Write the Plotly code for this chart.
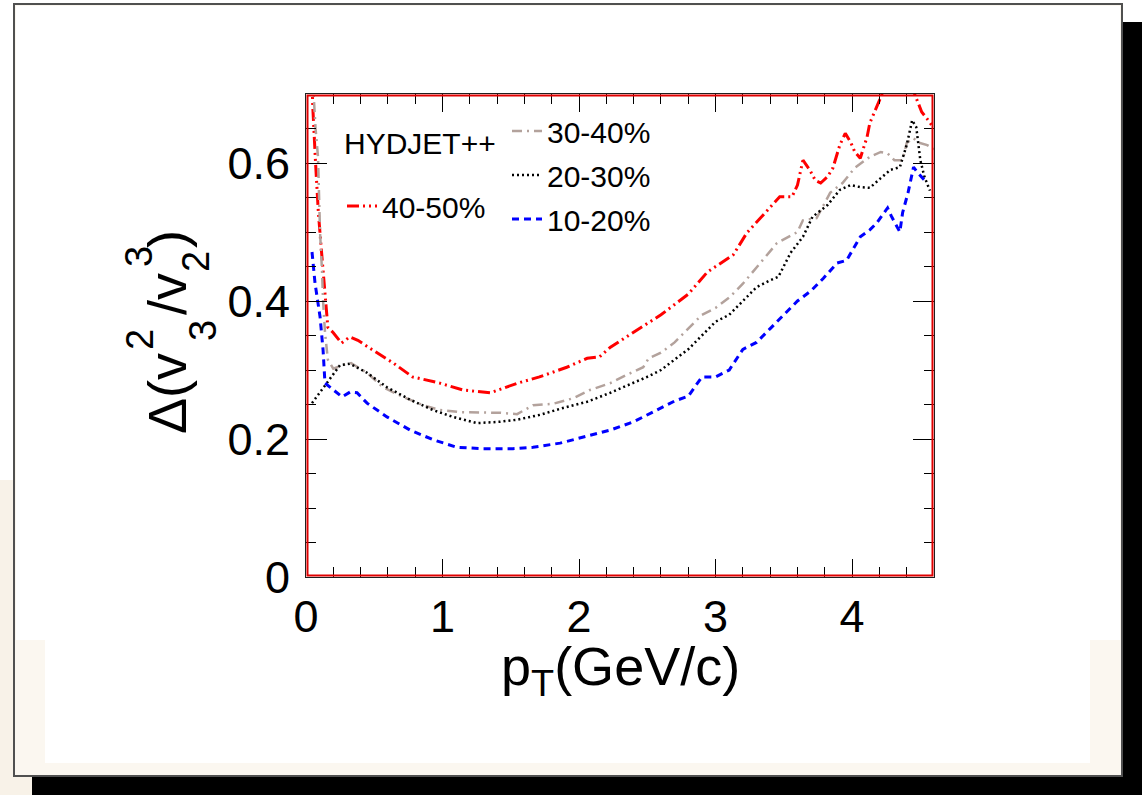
import plotly.graph_objects as go

# Δ(v3^2/v2^3) versus pT for four HYDJET++ centrality classes
pt_40_50 = [0.03, 0.05, 0.07, 0.09, 0.11, 0.13, 0.145, 0.16, 0.2, 0.26, 0.32, 0.38, 0.48, 0.64, 0.78,
            0.98, 1.15, 1.35, 1.55, 1.71, 1.91, 2.06, 2.15, 2.23, 2.37, 2.51, 2.6, 2.7, 2.8, 2.94,
            3.13, 3.23, 3.35, 3.47, 3.56, 3.60, 3.64, 3.69, 3.73, 3.77, 3.82, 3.86, 3.91, 3.95, 3.99,
            4.02, 4.06, 4.11, 4.13, 4.18, 4.22, 4.3, 4.4, 4.46, 4.51, 4.55, 4.6]
val_40_50 = [0.80, 0.68, 0.60, 0.53, 0.48, 0.43, 0.39, 0.362, 0.354, 0.339, 0.348, 0.343, 0.330, 0.310, 0.290,
             0.281, 0.271, 0.267, 0.281, 0.290, 0.304, 0.317, 0.319, 0.333, 0.351, 0.368, 0.38, 0.395, 0.41, 0.442,
             0.467, 0.499, 0.525, 0.551, 0.551, 0.568, 0.604, 0.590, 0.575, 0.571, 0.58, 0.593, 0.626, 0.643, 0.630,
             0.616, 0.607, 0.638, 0.658, 0.681, 0.70, 0.72, 0.73, 0.699, 0.674, 0.664, 0.65]

pt_30_40 = [0.05, 0.07, 0.088, 0.103, 0.117, 0.125, 0.139, 0.16, 0.2, 0.27, 0.33, 0.447, 0.564, 0.711, 0.857,
            0.982, 1.128, 1.275, 1.421, 1.546, 1.663, 1.81, 1.956, 2.08, 2.23, 2.35, 2.47, 2.51, 2.6, 2.7,
            2.8, 2.9, 3.0, 3.1, 3.2, 3.27, 3.35, 3.45, 3.60, 3.64, 3.74, 3.84, 3.93, 4.02, 4.13,
            4.21, 4.26, 4.31, 4.37, 4.40, 4.45, 4.48, 4.55, 4.6]
val_30_40 = [0.72, 0.65, 0.609, 0.499, 0.445, 0.40, 0.355, 0.315, 0.302, 0.307, 0.31, 0.296, 0.275, 0.261, 0.249,
             0.242, 0.239, 0.238, 0.238, 0.236, 0.249, 0.251, 0.259, 0.271, 0.281, 0.293, 0.304, 0.317, 0.325, 0.34,
             0.36, 0.38, 0.39, 0.405, 0.425, 0.442, 0.46, 0.484, 0.50, 0.517, 0.520, 0.557, 0.571, 0.593, 0.609,
             0.616, 0.614, 0.604, 0.604, 0.629, 0.636, 0.630, 0.626, 0.62]

pt_20_30 = [0.044, 0.154, 0.249, 0.322, 0.447, 0.593, 0.762, 0.930, 1.077, 1.253, 1.421, 1.546, 1.714, 1.883, 2.06,
            2.23, 2.40, 2.51, 2.6, 2.7, 2.8, 2.9, 3.0, 3.1, 3.2, 3.3, 3.4, 3.46, 3.55, 3.64,
            3.71, 3.82, 3.91, 3.99, 4.06, 4.13, 4.21, 4.28, 4.35, 4.40, 4.44, 4.47, 4.50, 4.53, 4.57]
val_20_30 = [0.252, 0.281, 0.307, 0.309, 0.296, 0.275, 0.257, 0.242, 0.232, 0.223, 0.225, 0.228, 0.235, 0.245, 0.254,
             0.267, 0.281, 0.291, 0.30, 0.315, 0.33, 0.35, 0.37, 0.38, 0.40, 0.42, 0.43, 0.435, 0.470, 0.493,
             0.522, 0.539, 0.561, 0.568, 0.565, 0.564, 0.578, 0.590, 0.594, 0.626, 0.662, 0.652, 0.604, 0.580, 0.56]

pt_10_20 = [0.044, 0.066, 0.103, 0.125, 0.139, 0.198, 0.264, 0.322, 0.374, 0.447, 0.593, 0.762, 0.930, 1.106, 1.297,
            1.516, 1.663, 1.861, 2.03, 2.23, 2.40, 2.51, 2.6, 2.7, 2.8, 2.9, 3.0, 3.1, 3.2, 3.3,
            3.4, 3.5, 3.6, 3.7, 3.79, 3.89, 3.96, 4.06, 4.13, 4.18, 4.26, 4.29, 4.35, 4.37, 4.41,
            4.45, 4.48, 4.55]
val_10_20 = [0.471, 0.426, 0.377, 0.329, 0.281, 0.271, 0.261, 0.268, 0.267, 0.252, 0.232, 0.213, 0.199, 0.188, 0.186,
             0.186, 0.188, 0.194, 0.203, 0.213, 0.225, 0.236, 0.245, 0.255, 0.262, 0.29, 0.29, 0.30, 0.33, 0.34,
             0.36, 0.38, 0.40, 0.415, 0.433, 0.455, 0.459, 0.493, 0.503, 0.513, 0.535, 0.522, 0.50, 0.528, 0.557,
             0.594, 0.586, 0.571]

x_ticks = [0, 1, 2, 3, 4]
y_ticks = [0, 0.2, 0.4, 0.6]

FONT = "Liberation Sans, Arial, Helvetica, sans-serif"
W, H = 1145, 795
L, R, T, B = 306, 934, 94, 577  # plot-area frame in pixels
PW, PH = R - L, B - T


def fx(p):
    return (p - L) / PW


def fy(p):
    return (B - p) / PH


fig = go.Figure()

series = [
    ("40-50%", pt_40_50, val_40_50, "#ff0000", 3, "12px,4px,2px,4px,2px,4px", "legend"),
    ("30-40%", pt_30_40, val_30_40, "#b3a29c", 2.5, "10px,5px,2px,5px", "legend2"),
    ("20-30%", pt_20_30, val_20_30, "#000000", 2.5, "2px,3px", "legend2"),
    ("10-20%", pt_10_20, val_10_20, "#0000ff", 3, "7px,5px", "legend2"),
]
for name, xs, ys, col, w, dash, lg in series:
    fig.add_trace(go.Scatter(
        x=xs, y=ys, mode="lines", name=name, legend=lg, legendgroup=name,
        line=dict(color=col, width=w, dash=dash),
    ))

axis_common = dict(
    showline=True, linecolor="#202020", linewidth=1, mirror="allticks",
    ticks="inside", tickcolor="black", tickwidth=1,
    showgrid=False, zeroline=False,
    tickfont=dict(family=FONT, size=45, color="black"),
)

fig.update_xaxes(
    range=[0, 4.6], tickvals=x_ticks, ticklen=18,
    minor=dict(dtick=0.2, ticklen=10, ticks="inside", tickcolor="black", showgrid=False),
    **axis_common,
)
fig.update_yaxes(
    range=[0, 0.7], tickvals=y_ticks, ticklen=21, ticklabelstandoff=6,
    minor=dict(dtick=0.05, ticklen=10, ticks="inside", tickcolor="black", showgrid=False),
    **axis_common,
)

BEIGE = "#f8f2e8"
shapes = []
# beige surround
shapes.append(dict(type="rect", xref="paper", yref="paper", layer="below",
                   x0=fx(0), x1=fx(14), y0=fy(480), y1=fy(795),
                   fillcolor=BEIGE, line=dict(width=0)))
shapes.append(dict(type="rect", xref="paper", yref="paper", layer="below",
                   x0=fx(0), x1=fx(32), y0=fy(776), y1=fy(795),
                   fillcolor=BEIGE, line=dict(width=0)))
# drop shadow
shapes.append(dict(type="rect", xref="paper", yref="paper", layer="below",
                   x0=fx(1122), x1=fx(1142), y0=fy(22), y1=fy(795),
                   fillcolor="black", line=dict(width=0)))
shapes.append(dict(type="rect", xref="paper", yref="paper", layer="below",
                   x0=fx(32), x1=fx(1142), y0=fy(777), y1=fy(795),
                   fillcolor="black", line=dict(width=0)))
# framed panel
shapes.append(dict(type="rect", xref="paper", yref="paper", layer="below",
                   x0=fx(14), x1=fx(1122), y0=fy(4), y1=fy(776),
                   fillcolor="#fbf7f0", line=dict(color="#505050", width=2)))
shapes.append(dict(type="rect", xref="paper", yref="paper", layer="below",
                   x0=fx(45), x1=fx(1090), y0=fy(6), y1=fy(763),
                   fillcolor="white", line=dict(width=0)))
shapes.append(dict(type="rect", xref="paper", yref="paper", layer="below",
                   x0=fx(16), x1=fx(1120), y0=fy(6), y1=fy(640),
                   fillcolor="white", line=dict(width=0)))
# red inner border of the plot frame
shapes.append(dict(type="rect", xref="paper", yref="paper", layer="above",
                   x0=1.5 / PW, x1=1 - 1.5 / PW, y0=1.5 / PH, y1=1 - 1.5 / PH,
                   line=dict(color="#e00000", width=2)))

annotations = [
    dict(text="HYDJET++", x=fx(342), y=fy(143), xanchor="left", yanchor="middle",
         font=dict(family=FONT, size=30, color="black")),
    dict(text="p<sub>T</sub>(GeV/c)", x=fx(620), y=fy(670), xanchor="center", yanchor="middle",
         font=dict(family=FONT, size=54, color="black")),
]

# rotated y-axis title with stacked sub/superscripts
ytitle_parts = [
    ("Δ(v", 167, 394, 54),
    ("2", 140, 340, 38),
    ("3", 203, 331, 38),
    ("/v", 167, 294, 54),
    ("3", 139, 257, 38),
    ("2", 196, 262, 38),
    (")", 167, 239, 54),
]
for txt, cx, cy, fs in ytitle_parts:
    annotations.append(dict(text=txt, x=fx(cx), y=fy(cy), xanchor="center", yanchor="middle",
                            textangle=-90, font=dict(family=FONT, size=fs, color="black")))

for a in annotations:
    a.update(xref="paper", yref="paper", showarrow=False)

fig.update_layout(
    width=W, height=H,
    margin=dict(l=L, r=W - R, t=T, b=H - B, autoexpand=False),
    paper_bgcolor="white", plot_bgcolor="white",
    shapes=shapes, annotations=annotations,
    legend=dict(x=fx(342), y=fy(180), xanchor="left", yanchor="top",
                bgcolor="rgba(0,0,0,0)", font=dict(family=FONT, size=30, color="black"),
                tracegroupgap=2, itemwidth=30),
    legend2=dict(x=fx(507), y=fy(105), xanchor="left", yanchor="top",
                 bgcolor="rgba(0,0,0,0)", font=dict(family=FONT, size=30, color="black"),
                 tracegroupgap=2, itemwidth=30),
    showlegend=True,
)

fig.write_html("out.html")
